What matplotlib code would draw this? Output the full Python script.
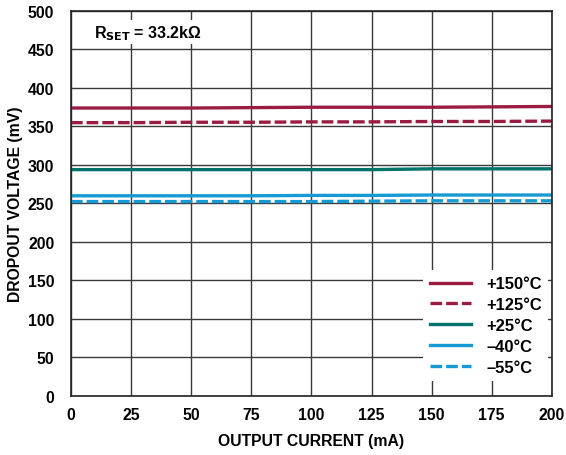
import matplotlib.pyplot as plt

plt.rcParams['font.family'] = ['Liberation Sans', 'DejaVu Sans']
plt.rcParams['font.weight'] = 'bold'

current = [0, 25, 50, 75, 100, 125, 150, 175, 200]
v150 = [374, 374, 374, 374.5, 375, 375, 375, 375.5, 376]
v125 = [355, 355, 355.5, 355.5, 356, 356, 356.5, 356.5, 357]
v25 = [294, 294, 294, 294, 294, 294, 295, 295, 295]
vm40 = [260, 260, 260, 260, 260.5, 260.5, 261, 261, 261]
vm55 = [252.5, 252.5, 252.5, 252.5, 252.5, 253, 253.5, 253.5, 253.5]
labels = ['+150°C', '+125°C', '+25°C', '\u201340°C', '\u201355°C']

maroon = '#9B1B41'
teal = '#00746A'
blue = '#159AD3'

fig = plt.figure(figsize=(5.66, 4.56), dpi=100)
ax = fig.add_axes([0.1254, 0.1294, 0.8496, 0.8443])

lw = 2.4
dash = (3.5, 1.2)
ax.plot(current, v150, color=maroon, lw=lw, label=labels[0])
ax.plot(current, v125, color=maroon, lw=lw, dashes=dash, label=labels[1])
ax.plot(current, v25, color=teal, lw=lw, label=labels[2])
ax.plot(current, vm40, color=blue, lw=lw, label=labels[3])
ax.plot(current, vm55, color=blue, lw=lw, dashes=dash, label=labels[4])

ax.set_xlim(0, 200)
ax.set_ylim(0, 500)
ax.set_xticks(range(0, 201, 25))
ax.set_yticks(range(0, 501, 50))
ax.grid(True, color='#3a3a3a', lw=1.0)
ax.set_axisbelow(True)
for s in ax.spines.values():
    s.set_color('#222222')
    s.set_linewidth(1.2)
ax.tick_params(direction='in', length=0, labelsize=11.3)
ax.tick_params(axis='y', pad=12)
ax.tick_params(axis='x', pad=8)

ax.set_xlabel('OUTPUT CURRENT (mA)', fontsize=11.3, fontweight='bold', labelpad=8)
ax.set_ylabel('DROPOUT VOLTAGE (mV)', fontsize=11.3, fontweight='bold')
ax.yaxis.set_label_coords(-0.1, 0.5)

ax.text(0.048, 0.945, 'R$_{\\mathbf{SET}}$ = 33.2k\u03a9', transform=ax.transAxes,
        fontsize=11.5, fontweight='bold', va='center', ha='left',
        bbox=dict(facecolor='white', edgecolor='none', pad=2))

leg = ax.legend(loc='lower right', bbox_to_anchor=(1.01, 0.017), frameon=True,
                facecolor='white', edgecolor='none', framealpha=1.0,
                fontsize=11.9, handlelength=2.5, handletextpad=0.9,
                labelspacing=0.35, borderpad=0.4)
for t in leg.get_texts():
    t.set_fontweight('bold')

fig.savefig('out.png', dpi=100)
